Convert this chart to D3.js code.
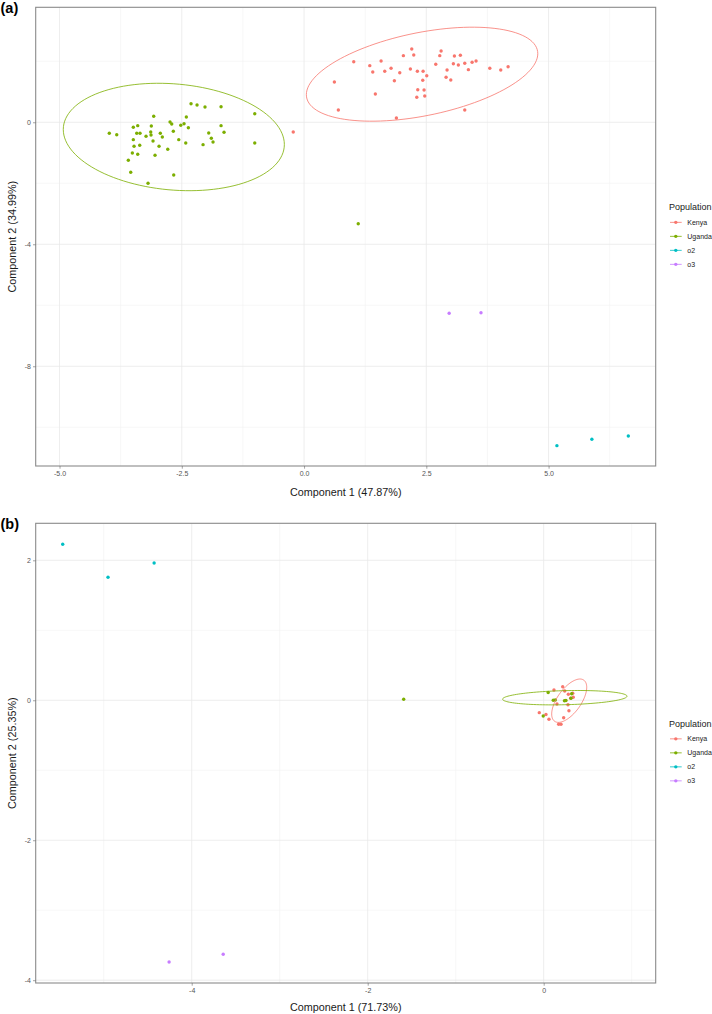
<!DOCTYPE html>
<html><head><meta charset="utf-8">
<script src="https://cdn.jsdelivr.net/npm/d3@7"></script>
<style>body{margin:0;background:#fff}svg{display:block}</style>
</head><body>
<svg id="chart" width="712" height="1014"></svg>
<script>
// ---------- DATA ----------
const populations = ["Kenya", "Uganda", "o2", "o3"];
const popColors = ["#F8766D", "#7CAE00", "#00BFC4", "#C77CFF"];

// Panel (a): Component 1 (47.87%) vs Component 2 (34.99%)
const aKenya = [[-0.221,-0.318],[0.620,1.321],[0.701,0.403],[1.016,1.987],[1.344,1.856],[1.405,1.649],[1.458,0.928],[1.575,2.010],[1.650,1.672],[1.779,1.770],[1.847,1.364],[1.888,0.141],[1.957,1.626],[2.031,2.184],[2.174,1.748],[2.202,2.403],[2.243,2.207],[2.305,0.820],[2.317,1.672],[2.325,1.069],[2.427,1.377],[2.434,1.672],[2.454,1.059],[2.468,0.862],[2.509,1.528],[2.693,1.902],[2.775,2.184],[2.802,2.338],[2.904,1.475],[2.924,1.715],[3.000,1.387],[3.053,1.921],[3.074,2.174],[3.155,1.879],[3.196,2.197],[3.286,1.934],[3.286,0.403],[3.360,1.725],[3.436,1.967],[3.517,2.010],[3.798,1.770],[4.022,1.715],[4.172,1.823]];
const aUganda = [[-3.982,-0.361],[-3.830,-0.407],[-3.593,-1.246],[-3.544,-1.639],[-3.511,-1.007],[-3.491,-0.164],[-3.491,-0.570],[-3.476,-0.787],[-3.421,-0.361],[-3.401,-0.111],[-3.401,-1.049],[-3.360,-0.754],[-3.354,-0.361],[-3.231,-0.459],[-3.190,-2.000],[-3.135,-0.318],[-3.129,-0.416],[-3.123,-0.121],[-3.088,-0.613],[-3.074,0.197],[-3.047,-1.082],[-2.965,-0.787],[-2.939,-0.361],[-2.898,-0.482],[-2.787,-0.885],[-2.740,0.010],[-2.706,-0.056],[-2.673,-0.295],[-2.665,-1.728],[-2.562,-0.570],[-2.521,-0.098],[-2.454,-0.046],[-2.419,-0.679],[-2.407,0.174],[-2.366,-0.177],[-2.311,0.610],[-2.188,0.567],[-2.065,-0.734],[-2.025,0.502],[-1.949,-0.351],[-1.896,-0.525],[-1.861,-0.646],[-1.697,0.511],[-1.697,-0.111],[-1.636,-0.328],[-1.008,0.282],[-1.008,-0.679],[1.108,-3.325]];
const aO2 = [[5.170,-10.603],[5.885,-10.393],[6.630,-10.285]];
const aO3 = [[2.967,-6.262],[3.618,-6.243]];
// 95% ellipses (centre + two conjugate semi-axis vectors, data units)
const aEllipses = [
  {pop: "Kenya",  cx: 2.413,  cy: 1.577,  ux: 2.366, uy: 0.672,  vx: 0, vy: 1.387},
  {pop: "Uganda", cx: -2.663, cy: -0.482, ux: 2.260, uy: -0.246, vx: 0, vy: 1.744}
];
const aXDomain = [-5.487, 7.19];
const aYDomain = [-11.27, 3.77];
const aXTicks = [-5, -2.5, 0, 2.5, 5];
const aXTickLabels = ["-5.0", "-2.5", "0.0", "2.5", "5.0"];
const aXMinor = [-3.75, -1.25, 1.25, 3.75, 6.25];
const aYTicks = [-8, -4, 0];
const aYTickLabels = ["-8", "-4", "0"];
const aYMinor = [-10, -6, -2, 2];

// Panel (b): Component 1 (71.73%) vs Component 2 (25.35%)
const bKenya = [[0.117,0.147],[0.216,0.194],[0.239,0.133],[0.280,0.086],[0.330,0.100],[0.336,0.043],[0.307,0.029],[0.151,-0.053],[0.276,-0.063],[0.287,-0.149],[-0.050,-0.177],[0.026,-0.203],[0.060,-0.271],[0.227,-0.249],[0.170,-0.343],[0.197,-0.343]];
const bUganda = [[0.051,0.111],[0.109,0.000],[0.132,0.004],[0.236,-0.006],[0.253,-0.003],[0.318,0.094],[0.310,0.029],[-0.005,-0.224],[-1.591,0.014]];
const bO2 = [[-5.466,2.229],[-4.951,1.757],[-4.427,1.961]];
const bO3 = [[-4.257,-3.739],[-3.642,-3.629]];
const bEllipses = [
  {pop: "Kenya",  cx: 0.290, cy: -0.006, ux: 0.199, uy: 0.191, vx: 0, vy: 0.244},
  {pop: "Uganda", cx: 0.240, cy: 0.037,  ux: 0.707, uy: 0.021, vx: 0, vy: 0.1006}
];
const bXDomain = [-5.773, 1.273];
const bYDomain = [-4.04, 2.529];
const bXTicks = [-4, -2, 0];
const bXTickLabels = ["-4", "-2", "0"];
const bXMinor = [-5, -3, -1, 1];
const bYTicks = [-4, -2, 0, 2];
const bYTickLabels = ["-4", "-2", "0", "2"];
const bYMinor = [-3, -1, 1];

// ---------- DRAW ----------
const svg = d3.select("#chart");
const color = d3.scaleOrdinal().domain(populations).range(popColors);

function panel(cfg) {
  const {left, right, top, bottom} = cfg.box;
  const x = d3.scaleLinear().domain(cfg.xDomain).range([left, right]);
  const y = d3.scaleLinear().domain(cfg.yDomain).range([bottom, top]);
  const g = svg.append("g");

  // grid
  const grid = g.append("g");
  grid.selectAll(".vminor").data(cfg.xMinor).enter().append("line")
    .attr("x1", d => x(d)).attr("x2", d => x(d)).attr("y1", top).attr("y2", bottom)
    .attr("stroke", "#f1f1f1").attr("stroke-width", 0.6);
  grid.selectAll(".hminor").data(cfg.yMinor).enter().append("line")
    .attr("y1", d => y(d)).attr("y2", d => y(d)).attr("x1", left).attr("x2", right)
    .attr("stroke", "#f1f1f1").attr("stroke-width", 0.6);
  grid.selectAll(".vmajor").data(cfg.xTicks).enter().append("line")
    .attr("x1", d => x(d)).attr("x2", d => x(d)).attr("y1", top).attr("y2", bottom)
    .attr("stroke", "#e9e9e9").attr("stroke-width", 0.8);
  grid.selectAll(".hmajor").data(cfg.yTicks).enter().append("line")
    .attr("y1", d => y(d)).attr("y2", d => y(d)).attr("x1", left).attr("x2", right)
    .attr("stroke", "#e9e9e9").attr("stroke-width", 0.8);

  // points
  cfg.series.forEach(s => {
    g.append("g").selectAll("circle").data(s.values).enter().append("circle")
      .attr("cx", d => x(d[0])).attr("cy", d => y(d[1])).attr("r", 1.7)
      .attr("fill", color(s.pop));
  });

  // ellipses
  const ts = d3.range(0, 361, 3).map(a => a * Math.PI / 180);
  const line = d3.line().x(p => x(p[0])).y(p => y(p[1]));
  cfg.ellipses.forEach(e => {
    const pts = ts.map(t => [e.cx + e.ux * Math.cos(t) + e.vx * Math.sin(t),
                             e.cy + e.uy * Math.cos(t) + e.vy * Math.sin(t)]);
    g.append("path").attr("d", line(pts)).attr("fill", "none")
      .attr("stroke", color(e.pop)).attr("stroke-width", 0.8);
  });

  // border
  g.append("rect").attr("x", left).attr("y", top).attr("width", right - left).attr("height", bottom - top)
    .attr("fill", "none").attr("stroke", "#8a8a8a").attr("stroke-width", 1.1);

  // axes
  const xAxis = d3.axisBottom(x).tickValues(cfg.xTicks).tickSize(2.7).tickPadding(2)
    .tickFormat((d, i) => cfg.xTickLabels[i]);
  const yAxis = d3.axisLeft(y).tickValues(cfg.yTicks).tickSize(2.7).tickPadding(2)
    .tickFormat((d, i) => cfg.yTickLabels[i]);
  const ax = g.append("g").attr("transform", `translate(0,${bottom})`).call(xAxis);
  const ay = g.append("g").attr("transform", `translate(${left},0)`).call(yAxis);
  [ax, ay].forEach(a => {
    a.select(".domain").remove();
    a.selectAll(".tick line").attr("stroke", "#666").attr("stroke-width", 0.6);
    a.selectAll(".tick text").attr("fill", "#555").attr("font-size", "7px")
      .attr("font-family", "Liberation Sans, Arial, sans-serif");
  });

  // axis titles
  g.append("text").attr("x", (left + right) / 2).attr("y", bottom + cfg.xTitleOffset)
    .attr("text-anchor", "middle").attr("font-size", "10.8px")
    .attr("font-family", "Liberation Sans, Arial, sans-serif").attr("fill", "#1a1a1a")
    .text(cfg.xTitle);
  g.append("text").attr("transform", `translate(15.5,${(top + bottom) / 2}) rotate(-90)`)
    .attr("text-anchor", "middle").attr("font-size", "10.8px")
    .attr("font-family", "Liberation Sans, Arial, sans-serif").attr("fill", "#1a1a1a")
    .text(cfg.yTitle);

  // panel tag
  g.append("text").attr("x", 0.5).attr("y", cfg.tagY).attr("font-size", "14.5px").attr("font-weight", "bold")
    .attr("font-family", "Liberation Sans, Arial, sans-serif").attr("fill", "#000").text(cfg.tag);

  // legend
  const cy = (top + bottom) / 2;
  const lg = g.append("g");
  lg.append("text").attr("x", 669).attr("y", cy - 26.5).attr("font-size", "9px")
    .attr("font-family", "Liberation Sans, Arial, sans-serif").attr("fill", "#1a1a1a").text("Population");
  populations.forEach((p, i) => {
    const yy = cy - 14.3 + i * 14;
    lg.append("line").attr("x1", 670).attr("x2", 681.7).attr("y1", yy).attr("y2", yy)
      .attr("stroke", color(p)).attr("stroke-width", 0.8);
    lg.append("circle").attr("cx", 675.8).attr("cy", yy).attr("r", 1.7).attr("fill", color(p));
    lg.append("text").attr("x", 687.3).attr("y", yy + 2.5).attr("font-size", "7px")
      .attr("font-family", "Liberation Sans, Arial, sans-serif").attr("fill", "#1a1a1a").text(p);
  });
}

panel({
  box: {left: 35.7, right: 655.7, top: 7.3, bottom: 466},
  xDomain: aXDomain, yDomain: aYDomain,
  xTicks: aXTicks, xTickLabels: aXTickLabels, xMinor: aXMinor,
  yTicks: aYTicks, yTickLabels: aYTickLabels, yMinor: aYMinor,
  series: [{pop: "Kenya", values: aKenya}, {pop: "Uganda", values: aUganda},
           {pop: "o2", values: aO2}, {pop: "o3", values: aO3}],
  ellipses: aEllipses,
  xTitle: "Component 1 (47.87%)", yTitle: "Component 2 (34.99%)", xTitleOffset: 29.5,
  tag: "(a)", tagY: 12.5
});

panel({
  box: {left: 35.7, right: 655.7, top: 523.3, bottom: 983},
  xDomain: bXDomain, yDomain: bYDomain,
  xTicks: bXTicks, xTickLabels: bXTickLabels, xMinor: bXMinor,
  yTicks: bYTicks, yTickLabels: bYTickLabels, yMinor: bYMinor,
  series: [{pop: "Kenya", values: bKenya}, {pop: "Uganda", values: bUganda},
           {pop: "o2", values: bO2}, {pop: "o3", values: bO3}],
  ellipses: bEllipses,
  xTitle: "Component 1 (71.73%)", yTitle: "Component 2 (25.35%)", xTitleOffset: 28,
  tag: "(b)", tagY: 528.5
});
</script>
</body></html>
